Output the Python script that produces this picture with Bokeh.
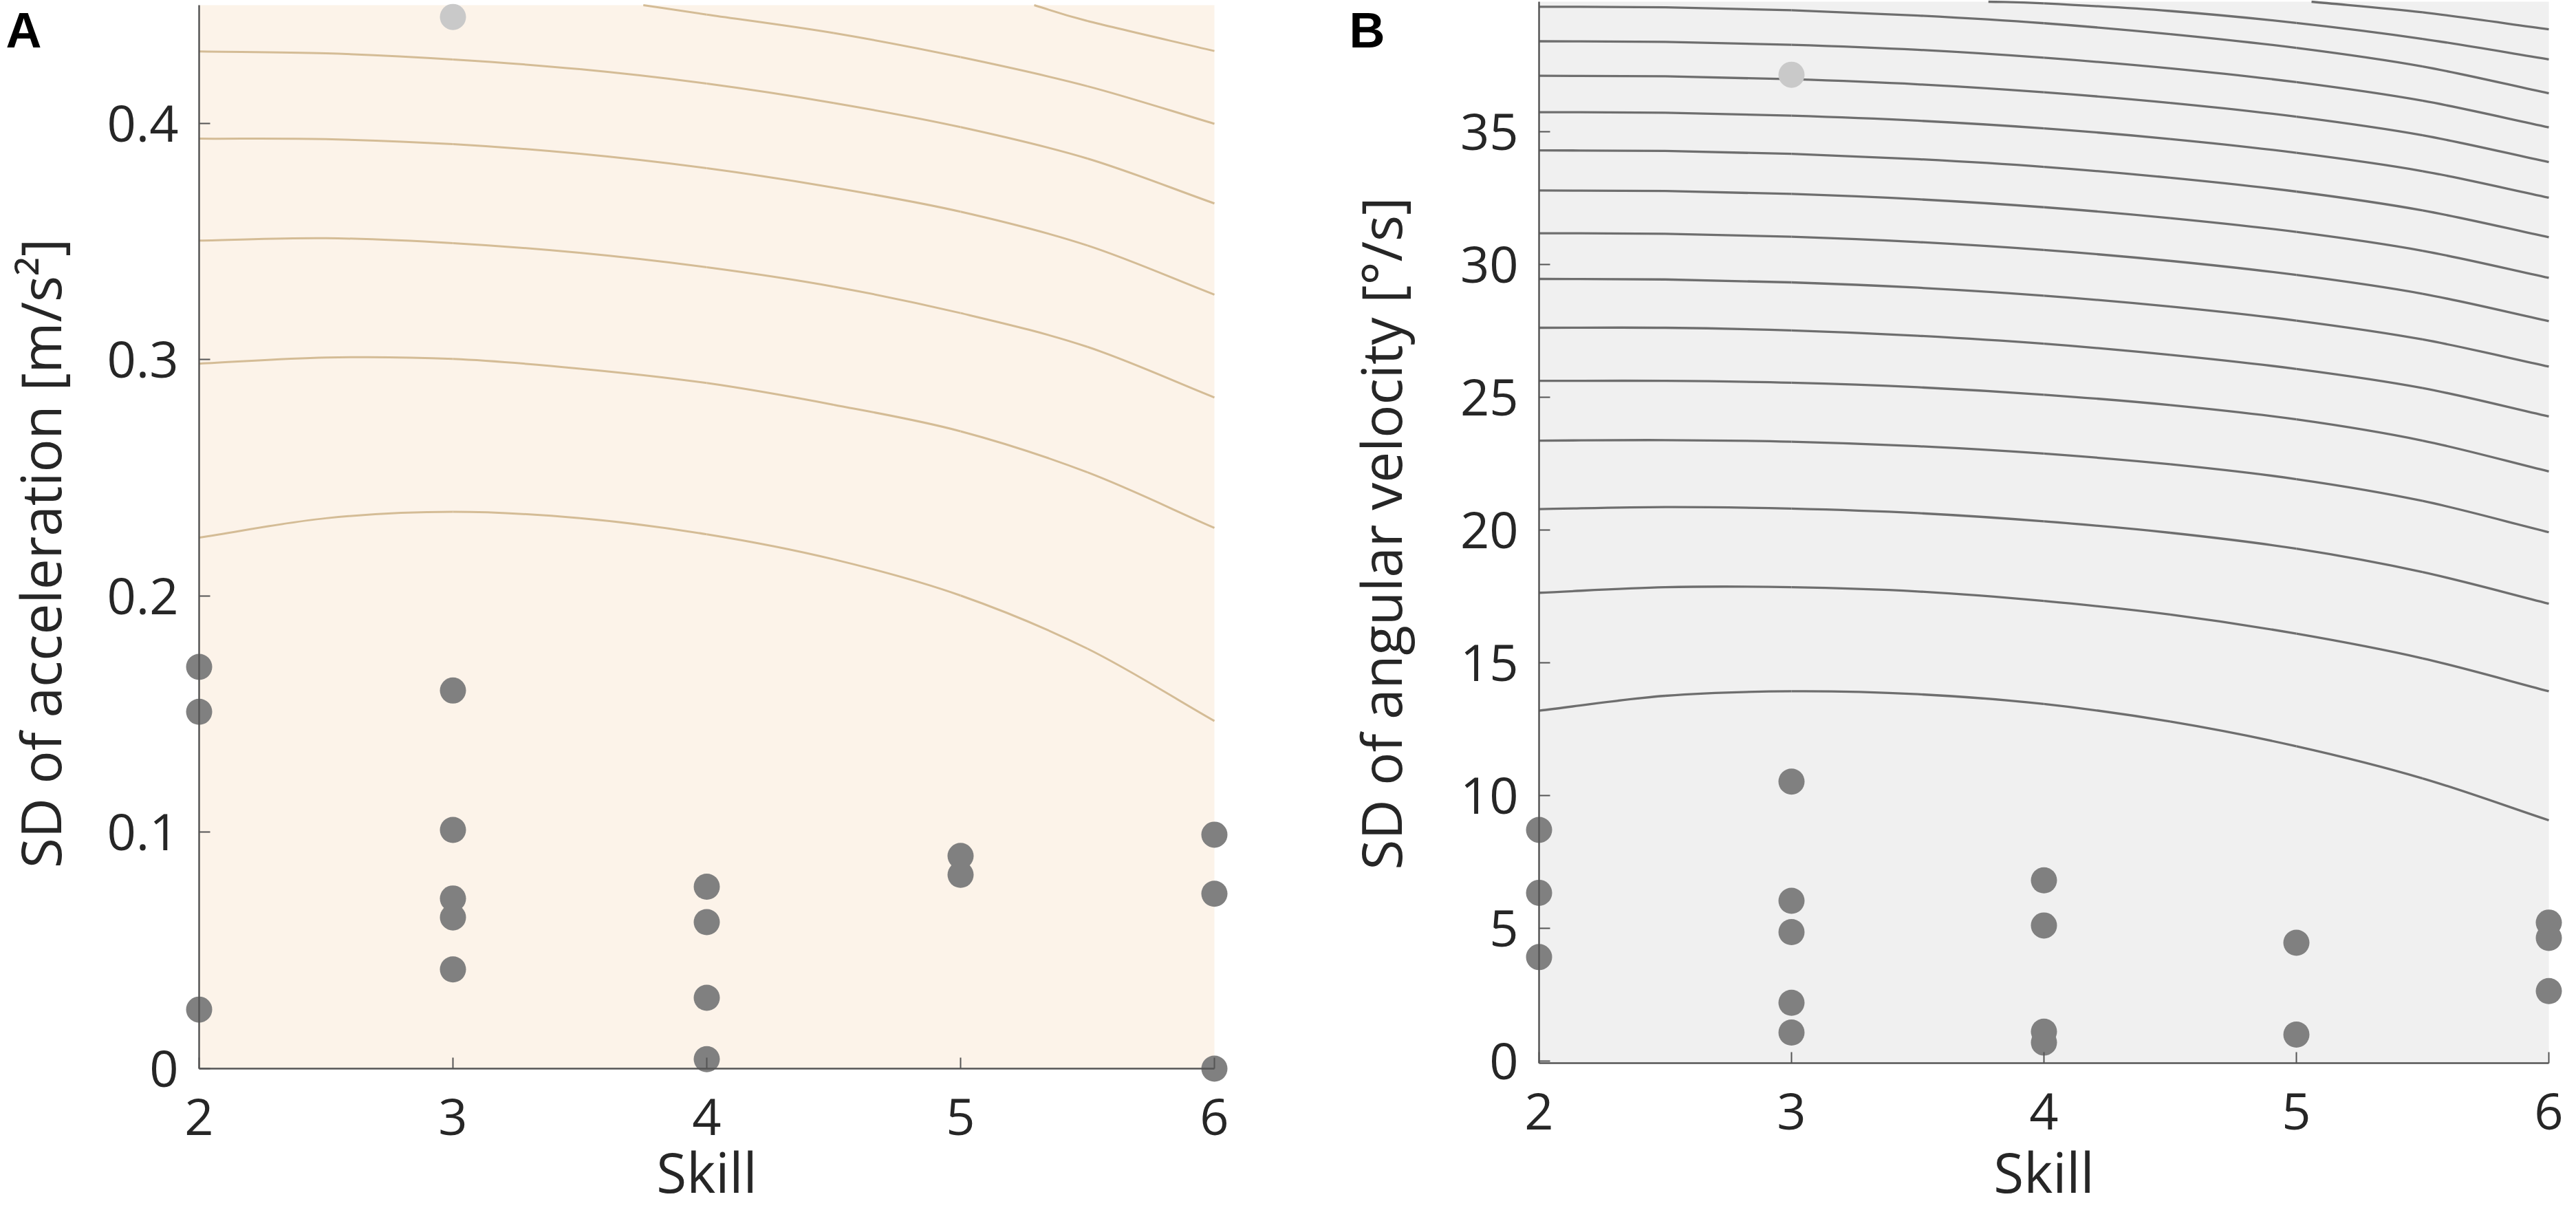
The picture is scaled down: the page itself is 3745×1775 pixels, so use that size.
import math
from bokeh.plotting import figure
from bokeh.models import Label, FixedTicker
from bokeh.layouts import row
from bokeh.embed import file_html
from bokeh.resources import INLINE

# ---------------- data ----------------
skill_ticks = [2, 3, 4, 5, 6]

# Panel A: SD of acceleration [m/s^2]
acc_skill = [2, 2, 2, 3, 3, 3, 3, 3, 4, 4, 4, 4, 5, 5, 6, 6, 6]
acc_sd = [0.170, 0.151, 0.025, 0.160, 0.101, 0.072, 0.064, 0.042,
          0.077, 0.062, 0.030, 0.004, 0.090, 0.082, 0.099, 0.074, 0.000]
acc_out_skill = [3]
acc_out_sd = [0.445]
acc_yticks = [0, 0.1, 0.2, 0.3, 0.4]

# contour lines (read at skill = 2, 2.5, ..., 6)
grid_x = [2, 2.5, 3, 3.5, 4, 4.5, 5, 5.5, 6]
acc_c1 = [0.2247, 0.2329, 0.2356, 0.2329, 0.2261, 0.2155, 0.2002, 0.1777, 0.1471]
acc_c2 = [0.2983, 0.3009, 0.3003, 0.2962, 0.2901, 0.2809, 0.2697, 0.2523, 0.2288]
acc_c3 = [0.3504, 0.3514, 0.3493, 0.3452, 0.3391, 0.3309, 0.3197, 0.3054, 0.2840]
acc_c4 = [0.3935, 0.3933, 0.3912, 0.3871, 0.3810, 0.3728, 0.3626, 0.3483, 0.3275]
acc_c5 = [0.4304, 0.4296, 0.4270, 0.4229, 0.4168, 0.4086, 0.3984, 0.3851, 0.3661]
acc_c6_x = [3.75, 4, 4.5, 5, 5.5, 6]
acc_c6 = [0.4500, 0.4460, 0.4382, 0.4280, 0.4157, 0.3998]
acc_c7_x = [5.29, 5.5, 6]
acc_c7 = [0.4500, 0.4433, 0.4306]

# Panel B: SD of angular velocity [deg/s]
gyr_skill = [2, 2, 2, 3, 3, 3, 3, 3, 4, 4, 4, 4, 5, 5, 6, 6, 6]
gyr_sd = [8.71, 6.34, 3.92, 10.53, 6.04, 4.86, 2.20, 1.08,
          6.81, 5.11, 1.11, 0.70, 4.46, 1.00, 5.22, 4.64, 2.64]
gyr_out_skill = [3]
gyr_out_sd = [37.15]
gyr_yticks = [0, 5, 10, 15, 20, 25, 30, 35]

gyr_c1_x = [5.06, 5.5, 6]
gyr_c1 = [39.90, 39.50, 38.86]
gyr_c2_x = [3.78, 4, 4.5, 5, 5.5, 6]
gyr_c2 = [39.90, 39.84, 39.55, 39.10, 38.50, 37.73]
gyr_c3 = [39.71, 39.69, 39.58, 39.38, 39.09, 38.68, 38.16, 37.46, 36.45]
gyr_c4 = [38.41, 38.39, 38.28, 38.09, 37.79, 37.39, 36.87, 36.17, 35.17]
gyr_c5 = [37.11, 37.09, 36.98, 36.79, 36.49, 36.09, 35.57, 34.87, 33.86]
gyr_c6 = [35.74, 35.72, 35.61, 35.42, 35.13, 34.73, 34.21, 33.52, 32.52]
gyr_c7 = [34.30, 34.28, 34.17, 33.97, 33.68, 33.27, 32.75, 32.04, 31.03]
gyr_c8 = [32.79, 32.77, 32.66, 32.46, 32.16, 31.75, 31.23, 30.52, 29.50]
gyr_c9 = [31.18, 31.16, 31.05, 30.85, 30.55, 30.14, 29.61, 28.90, 27.87]
gyr_c10 = [29.46, 29.44, 29.33, 29.13, 28.83, 28.42, 27.89, 27.18, 26.16]
gyr_c11 = [27.62, 27.62, 27.52, 27.32, 27.02, 26.60, 26.07, 25.35, 24.28]
gyr_c12 = [25.62, 25.62, 25.55, 25.38, 25.10, 24.71, 24.17, 23.37, 22.21]
gyr_c13 = [23.37, 23.39, 23.33, 23.16, 22.88, 22.48, 21.92, 21.10, 19.92]
gyr_c14 = [20.79, 20.87, 20.81, 20.64, 20.33, 19.90, 19.30, 18.42, 17.23]
gyr_c15 = [17.64, 17.85, 17.85, 17.69, 17.33, 16.82, 16.10, 15.17, 13.93]
gyr_c16 = [13.20, 13.76, 13.93, 13.82, 13.45, 12.79, 11.86, 10.65, 9.07]

# ---------------- styling / layout ----------------
FIG_H = 1759
TICK_FONT = "Open Sans"
TICK_SIZE = "74px"
TITLE_SIZE = "80px"
TEXT_COLOR = "#262626"
AXIS_COLOR = "#555555"
DOT = "#808080"
DOT_LIGHT = "#C9C9C9"


def smooth_segments(curves):
    """Catmull-Rom style Bezier segments passing through the read points."""
    seg = dict(x0=[], y0=[], x1=[], y1=[], cx0=[], cy0=[], cx1=[], cy1=[])
    for xs, ys in curves:
        n = len(xs)
        for i in range(n - 1):
            xa, ya = xs[i], ys[i]
            xb, yb = xs[i + 1], ys[i + 1]
            if i > 0:
                xp, yp = xs[i - 1], ys[i - 1]
            else:
                xp, yp = 2 * xa - xb, 2 * ya - yb
            if i + 2 < n:
                xn, yn = xs[i + 2], ys[i + 2]
            else:
                xn, yn = 2 * xb - xa, 2 * yb - ya
            seg["x0"].append(xa); seg["y0"].append(ya)
            seg["x1"].append(xb); seg["y1"].append(yb)
            seg["cx0"].append(xa + (xb - xp) / 6); seg["cy0"].append(ya + (yb - yp) / 6)
            seg["cx1"].append(xb - (xn - xa) / 6); seg["cy1"].append(yb - (yn - ya) / 6)
    return seg


def make_panel(width, xr, yr, box_y, bg, line_color, line_width, curves,
               pts_x, pts_y, out_x, out_y, yticks, overrides):
    p = figure(width=width, height=FIG_H, x_range=xr, y_range=yr,
               output_backend="svg", toolbar_location=None, title=None,
               min_border=0, min_border_left=0, min_border_right=0,
               min_border_top=0, min_border_bottom=0)
    p.background_fill_color = "white"
    p.border_fill_color = "white"
    p.outline_line_color = None
    p.xgrid.visible = False
    p.ygrid.visible = False

    p.quad(left=2, right=6, bottom=box_y[0], top=box_y[1],
           fill_color=bg, line_color=None)
    p.bezier(line_color=line_color, line_width=line_width,
             **smooth_segments(curves))
    p.scatter(x=pts_x, y=pts_y, size=38, fill_color=DOT, line_color=None)
    p.scatter(x=out_x, y=out_y, size=38, fill_color=DOT_LIGHT, line_color=None)

    for ax in (p.xaxis[0], p.yaxis[0]):
        ax.axis_line_color = AXIS_COLOR
        ax.axis_line_width = 2.5
        ax.major_tick_line_color = AXIS_COLOR
        ax.major_tick_line_width = 2
        ax.major_tick_in = 16
        ax.major_tick_out = 0
        ax.minor_tick_line_color = None
        ax.major_label_text_font = TICK_FONT
        ax.major_label_text_font_size = TICK_SIZE
        ax.major_label_text_color = TEXT_COLOR

    p.xaxis.ticker = FixedTicker(ticks=skill_ticks)
    p.xaxis.fixed_location = box_y[0]
    p.xaxis.bounds = (2, 6)
    p.xaxis.major_label_standoff = 43

    p.yaxis.ticker = FixedTicker(ticks=yticks)
    p.yaxis.fixed_location = 2
    p.yaxis.bounds = (box_y[0], box_y[1])
    p.yaxis.major_label_standoff = 30
    p.yaxis.major_label_overrides = overrides
    return p


def add_text(p, x, y, text, size, bold=False, angle=0.0, align="center",
             font=TICK_FONT, color=TEXT_COLOR):
    p.add_layout(Label(x=x, y=y, text=text, angle=angle, text_font=font,
                       text_font_size=size,
                       text_font_style="bold" if bold else "normal",
                       text_color=color, text_align=align,
                       text_baseline="middle"))


# ----- Panel A (frame covers the whole canvas) -----
A_W = 1900
A_XPX, A_YPX = 369.0, 3435.6
A_X0 = 2 - 289 / A_XPX
A_X1 = A_X0 + A_W / A_XPX
A_Y1 = 0.45 + 7 / A_YPX
A_Y0 = A_Y1 - FIG_H / A_YPX

acc_curves = [(grid_x, acc_c1), (grid_x, acc_c2), (grid_x, acc_c3),
              (grid_x, acc_c4), (grid_x, acc_c5), (acc_c6_x, acc_c6),
              (acc_c7_x, acc_c7)]
pa = make_panel(A_W, (A_X0, A_X1), (A_Y0, A_Y1), (0, 0.45), "#FCF3E9",
                "#D4BC96", 3, acc_curves, acc_skill, acc_sd, acc_out_skill,
                acc_out_sd, acc_yticks,
                {0: "0", 0.1: "0.1", 0.2: "0.2", 0.3: "0.3", 0.4: "0.4"})


def a_x(cx):
    return A_X0 + cx / A_XPX


def a_y(cy):
    return A_Y1 - cy / A_YPX


add_text(pa, a_x(8), a_y(43), "A", "72px", bold=True, align="left",
         font="Liberation Sans", color="black")
add_text(pa, a_x(57), a_y(804), "SD of acceleration [m/s²]", TITLE_SIZE,
         angle=math.pi / 2)
add_text(pa, 4, a_y(1702), "Skill", TITLE_SIZE)

# ----- Panel B -----
B_W = 1829
B_XPX, B_YPX = 367.0, 38.6
B_X0 = 2 - 337 / B_XPX
B_X1 = B_X0 + B_W / B_XPX
B_Y1 = 39.9 + 2 / B_YPX
B_Y0 = B_Y1 - FIG_H / B_YPX

gyr_curves = [(gyr_c1_x, gyr_c1), (gyr_c2_x, gyr_c2)] + [
    (grid_x, c) for c in (gyr_c3, gyr_c4, gyr_c5, gyr_c6, gyr_c7, gyr_c8,
                          gyr_c9, gyr_c10, gyr_c11, gyr_c12, gyr_c13,
                          gyr_c14, gyr_c15, gyr_c16)]
pb = make_panel(B_W, (B_X0, B_X1), (B_Y0, B_Y1), (-0.08, 39.9), "#F0F0F0",
                "#6E6E6E", 3.3, gyr_curves, gyr_skill, gyr_sd, gyr_out_skill,
                gyr_out_sd, gyr_yticks, {t: str(t) for t in gyr_yticks})


def b_x(cx):
    return B_X0 + cx / B_XPX


def b_y(cy):
    return B_Y1 - cy / B_YPX


add_text(pb, b_x(61), b_y(43), "B", "72px", bold=True, align="left",
         font="Liberation Sans", color="black")
add_text(pb, b_x(106), b_y(775), "SD of angular velocity [°/s]", TITLE_SIZE,
         angle=math.pi / 2)
add_text(pb, 4, b_y(1702), "Skill", TITLE_SIZE)

layout = row(pa, pb)
open("out.html", "w").write(file_html(layout, INLINE))
